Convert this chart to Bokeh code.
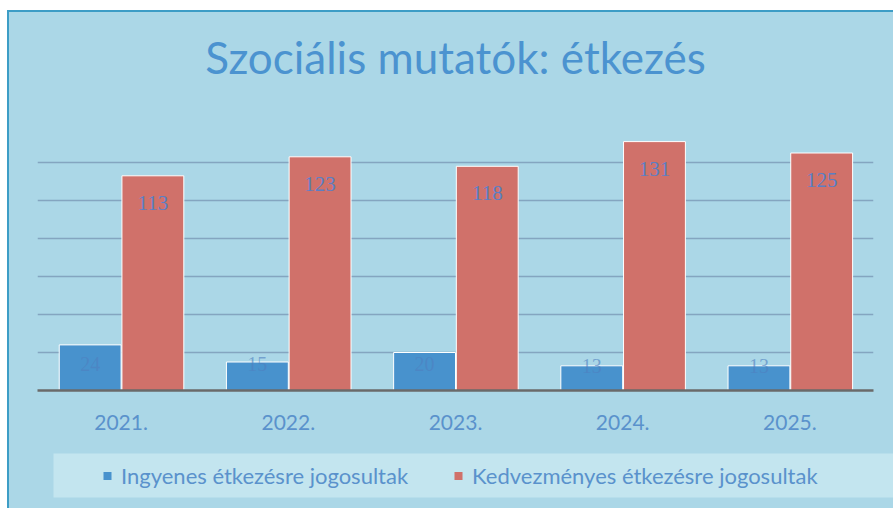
from bokeh.plotting import figure
from bokeh.models import (ColumnDataSource, FactorRange, Range1d, Legend, LegendItem,
                          LabelSet, FixedTicker, Title)
from bokeh.layouts import column, row
from bokeh.transform import dodge
from bokeh.embed import file_html
from bokeh.resources import INLINE

years = ["2021.", "2022.", "2023.", "2024.", "2025."]
ingyenes = [24, 15, 20, 13, 13]
kedvezmenyes = [113, 123, 118, 131, 125]
series_names = ["Ingyenes étkezésre jogosultak", "Kedvezményes étkezésre jogosultak"]
title_text = "Szociális mutatók: étkezés"

BG = "#abd7e7"
BAND = "#c3e5ef"
BLUE = "#4892cd"
RED = "#d0716a"
TXT = "#5a92cc"
BORDER = "#3d9dc6"

src = ColumnDataSource(dict(
    x=years,
    ing=ingyenes,
    ked=kedvezmenyes,
    ing_lbl=[str(v) for v in ingyenes],
    ked_lbl=[str(v) for v in kedvezmenyes],
    ing_pos=[min(v, 14) for v in ingyenes],
))

p = figure(width=884, height=441, x_range=FactorRange(*years, range_padding=0.0),
           y_range=Range1d(0, 140), output_backend="svg", toolbar_location=None,
           min_border_left=28, min_border_right=20, min_border_top=112, min_border_bottom=63)
p.background_fill_color = BG
p.border_fill_color = BG
p.outline_line_color = None

spacer = Title(text=" ", text_font_size="1px", standoff=22, text_color=BG)
main_title = Title(text=title_text, align="center", text_font="Lato", text_font_size="44px",
                   text_color="#4b93d0", text_font_style="normal", standoff=33)
p.add_layout(spacer, "above")
p.add_layout(main_title, "above")

r1 = p.vbar(x=dodge("x", -0.185, range=p.x_range), top="ing", width=0.37, source=src,
            fill_color=BLUE, line_color="white", line_width=1)
r2 = p.vbar(x=dodge("x", 0.19, range=p.x_range), top="ked", width=0.37, source=src,
            fill_color=RED, line_color="white", line_width=1)

p.add_layout(LabelSet(x=dodge("x", 0.19, range=p.x_range), y="ked", text="ked_lbl", source=src,
                      text_align="center", text_baseline="top", y_offset=-20,
                      text_font="Liberation Serif", text_font_size="21px", text_color="#5a7fc4"))
p.add_layout(LabelSet(x=dodge("x", -0.185, range=p.x_range), y="ing_pos", text="ing_lbl", source=src,
                      text_align="center", text_baseline="middle",
                      text_font="Lato", text_font_size="20px", text_color="#4f7fbf", text_alpha=0.6))

p.ygrid.ticker = FixedTicker(ticks=[20, 40, 60, 80, 100, 120])
p.ygrid.grid_line_color = "#7a98b6"
p.ygrid.grid_line_width = 1.5
p.ygrid.grid_line_alpha = 0.8
p.xgrid.grid_line_color = None
p.yaxis.visible = False

p.xaxis.axis_line_color = "#6a6a6a"
p.xaxis.axis_line_width = 2.5
p.xaxis.major_tick_line_color = None
p.xaxis.minor_tick_line_color = None
p.xaxis.major_label_text_font = "Lato"
p.xaxis.major_label_text_font_size = "21px"
p.xaxis.major_label_text_color = TXT
p.xaxis.major_label_standoff = 18

# legend strip
q = figure(width=884, height=55, x_range=(0, 1), y_range=(0, 1), output_backend="svg",
           toolbar_location=None, min_border_left=44, min_border_right=0,
           min_border_top=0, min_border_bottom=11)
q.background_fill_color = BAND
q.border_fill_color = BG
q.outline_line_color = None
q.axis.visible = False
q.grid.visible = False
d1 = q.vbar(x=[5], top=[1], width=0.1, fill_color=BLUE, line_color=None)
d2 = q.vbar(x=[5], top=[1], width=0.1, fill_color=RED, line_color=None)
legend = Legend(items=[LegendItem(label=series_names[0], renderers=[d1]),
                       LegendItem(label=series_names[1], renderers=[d2])],
                orientation="horizontal", location="left",
                background_fill_alpha=0, border_line_color=None,
                label_text_font="Lato", label_text_font_size="22px", label_text_color=TXT,
                glyph_width=10, glyph_height=10, spacing=45, label_standoff=9,
                padding=0, margin=49)
q.add_layout(legend, "center")

layout = column(row(p), row(q), spacing=0, margin=(10, 0, 0, 7),
                styles={"border-left": f"2px solid {BORDER}", "border-top": f"2px solid {BORDER}",
                        "background-color": BG})

open("out.html", "w").write(file_html(layout, INLINE))
